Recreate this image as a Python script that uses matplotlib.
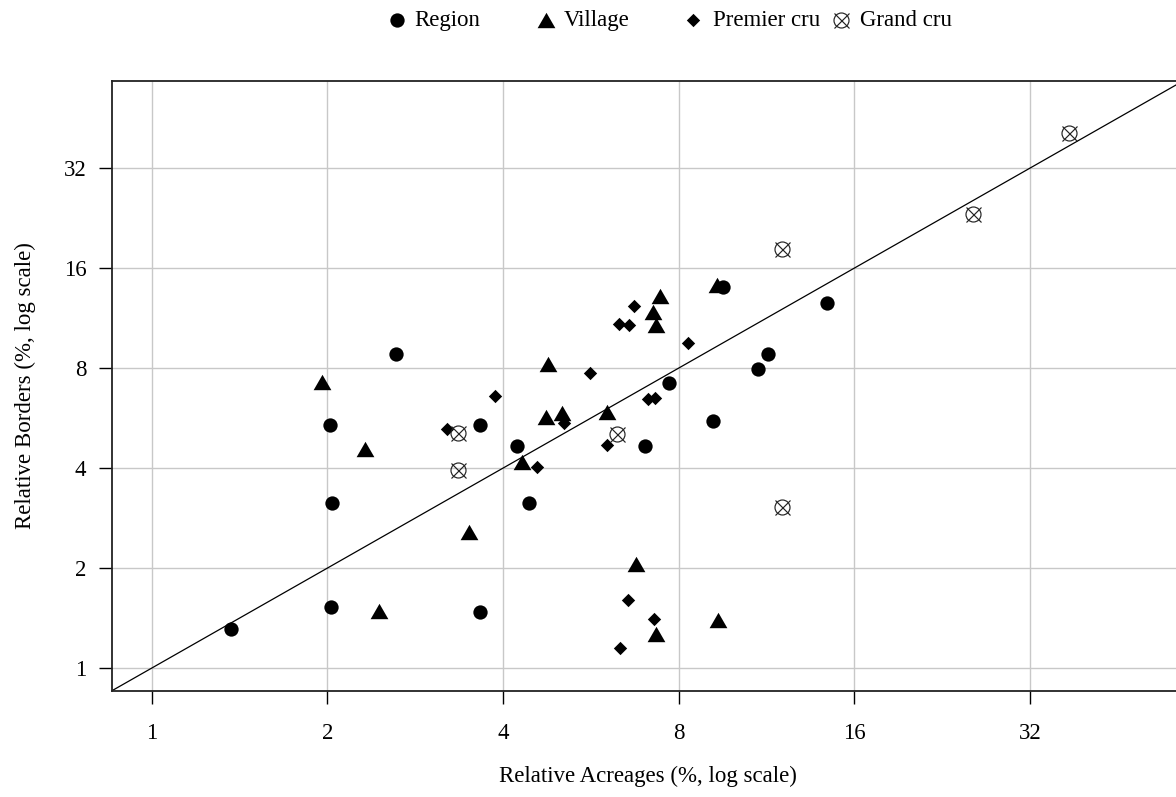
import matplotlib
matplotlib.use("Agg")
import matplotlib.pyplot as plt
import numpy as np

plt.rcParams['font.family'] = ['Liberation Serif', 'DejaVu Serif']

# ---- data (relative acreage %, relative borders %) ----
region_x = [1.37, 2.03, 2.04, 2.02, 2.62, 3.65, 3.65, 4.43, 4.23, 7.00, 7.70, 9.16, 9.53, 10.94, 11.38, 14.33]
region_y = [1.31, 1.53, 3.14, 5.39, 8.82, 1.48, 5.39, 3.14, 4.66, 4.66, 7.21, 5.54, 14.0, 7.94, 8.82, 12.55]

village_x = [1.955, 2.32, 2.45, 3.50, 4.31, 4.74, 5.05, 4.78, 6.03, 6.76, 7.32, 7.23, 7.32, 7.43, 9.31, 9.34]
village_y = [7.26, 4.56, 1.49, 2.57, 4.17, 5.70, 5.86, 8.22, 5.90, 2.06, 1.27, 11.8, 10.78, 13.2, 14.2, 1.40]

premier_x = [3.21, 3.87, 4.57, 5.09, 5.64, 6.03, 6.32, 6.58, 6.71, 7.09, 7.29, 8.29, 6.55, 7.26, 6.34]
premier_y = [5.24, 6.59, 4.03, 5.46, 7.73, 4.69, 10.85, 10.78, 12.3, 6.45, 6.50, 9.51, 1.60, 1.41, 1.15]

grand_x = [3.35, 3.35, 6.27, 12.02, 12.02, 25.5, 37.3]
grand_y = [5.10, 3.95, 5.06, 18.25, 3.05, 23.3, 40.8]

ticks = [1, 2, 4, 8, 16, 32]
tick_labels = ["1", "2", "4", "8", "16", "32"]
legend_labels = ["Region", "Village", "Premier cru", "Grand cru"]

FS = 16.5
W, H = 1176, 797
fig = plt.figure(figsize=(W / 100, H / 100), dpi=100)

left, right, top, bottom = 112, 1183, 81, 690.7
ax = fig.add_axes([left / W, 1 - bottom / H, (right - left) / W, (bottom - top) / H])
ax.set_xscale('log', base=2)
ax.set_yscale('log', base=2)
lo, hi = 2 ** -0.226, 2 ** 5.87
ax.set_xlim(lo, hi)
ax.set_ylim(lo, hi)

ax.set_xticks(ticks)
ax.set_xticklabels(tick_labels)
ax.set_yticks(ticks)
ax.set_yticklabels(tick_labels)
ax.minorticks_off()
ax.tick_params(axis='both', direction='out', length=9.4, width=1.0, labelsize=FS, colors='black')
ax.tick_params(axis='x', pad=13.5)
ax.tick_params(axis='y', pad=9)
ax.grid(True, color='#c8c8c8', linewidth=1.0)
ax.set_axisbelow(True)
for s in ['left', 'top', 'bottom']:
    ax.spines[s].set_linewidth(1.3)
    ax.spines[s].set_color('#222222')
ax.spines['right'].set_visible(False)

ax.axline((1, 1), (2, 2), color='black', linewidth=0.9, zorder=2)

tri = [(0, 0.866), (-1, -0.866), (1, -0.866)]
dia = [(0, 1), (1, 0), (0, -1), (-1, 0)]

styles = {
    'Region': dict(marker='o', markersize=10.3, color='black', mec='black', mew=0),
    'Village': dict(marker=tri, markersize=12.8, color='black', mec='black', mew=0),
    'Premier cru': dict(marker=dia, markersize=9.6, color='black', mec='black', mew=0),
}
ax.plot(region_x, region_y, linestyle='none', zorder=3, **styles['Region'])
ax.plot(village_x, village_y, linestyle='none', zorder=3, **styles['Village'])
ax.plot(premier_x, premier_y, linestyle='none', zorder=3, **styles['Premier cru'])
gc_o = dict(marker='o', markersize=10.8, mfc='none', mec='#222222', mew=0.85)
gc_x = dict(marker='x', markersize=10.8, mec='#222222', mew=0.85)
ax.plot(grand_x, grand_y, linestyle='none', zorder=3, **gc_o)
ax.plot(grand_x, grand_y, linestyle='none', zorder=3, **gc_x)

ax.set_xlabel("Relative Acreages (%, log scale)", fontsize=FS, labelpad=16)
ax.set_ylabel("Relative Borders (%, log scale)", fontsize=FS, labelpad=20)

# ---- legend (manual, top center) ----
lax = fig.add_axes([0, 0, 1, 1])
lax.set_xlim(0, W)
lax.set_ylim(H, 0)
lax.axis('off')
mx = [397, 546, 693, 841]
tx = [414, 564, 713, 860]
ly = 20
lax.plot([mx[0]], [ly], linestyle='none', **styles['Region'])
lax.plot([mx[1]], [ly], linestyle='none', **styles['Village'])
lax.plot([mx[2]], [ly], linestyle='none', **styles['Premier cru'])
lax.plot([mx[3]], [ly], linestyle='none', **gc_o)
lax.plot([mx[3]], [ly], linestyle='none', **gc_x)
for x, lab in zip(tx, legend_labels):
    lax.text(x, ly, lab, fontsize=FS, va='center', ha='left')

fig.savefig("out.png", dpi=100)
